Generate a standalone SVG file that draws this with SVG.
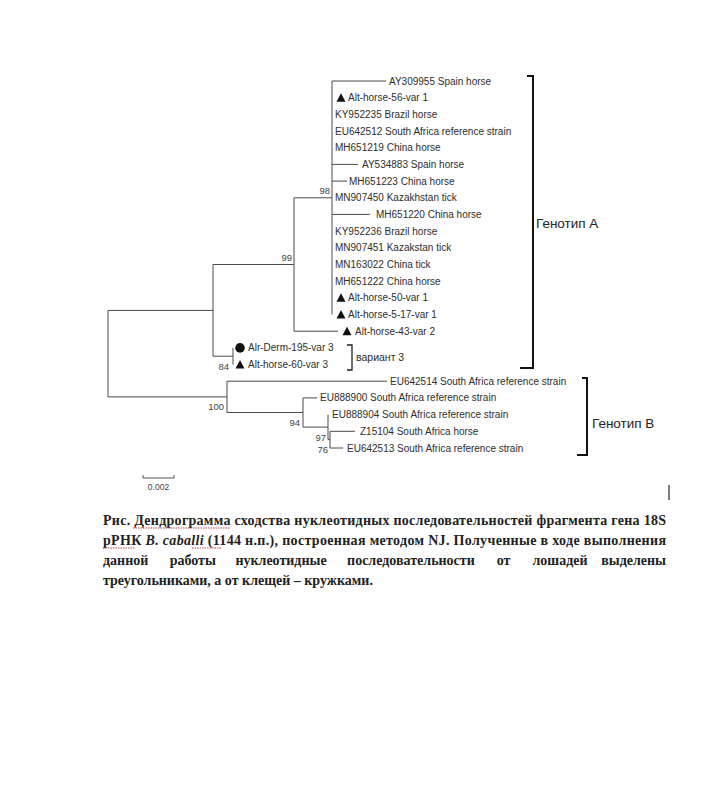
<svg xmlns="http://www.w3.org/2000/svg" xmlns:xlink="http://www.w3.org/1999/xlink" width="713" height="800" viewBox="0 0 713 800">
<defs>
<style>
.lf{font-family:"Liberation Sans",Arial,sans-serif;font-size:10px;fill:#2e2e2e}
.bs{font-family:"Liberation Sans",Arial,sans-serif;font-size:9.5px;fill:#444;text-anchor:end}
.gt{font-family:"Liberation Sans",Arial,sans-serif;font-size:13.5px;fill:#222}
.br{fill:none;stroke:#4a4a4a;stroke-width:1}
.bk{fill:none;stroke:#111;stroke-width:2}
.cap{font-family:"Liberation Serif","Times New Roman",serif;font-size:14px;font-weight:bold;fill:#222}
.sq{stroke:#b44;stroke-width:1.2;stroke-dasharray:1.5 1;fill:none}
</style>
<path id="tri" d="M-4.5,4 L4.5,4 L0,-4.5 Z" fill="#111"/>
</defs>
<rect width="713" height="800" fill="#fff"/>

<g id="connectors" class="br">
<path d="M108,310.4 V396.9 M108,310.4 H213 M108,396.9 H227"/>
<path d="M213,264.5 V356.2 M213,264.5 H294 M213,356.2 H233"/>
<path d="M233,347.9 V364.6"/>
<path d="M294,197.8 V331.2 M294,197.8 H332 M294,331.2 H338"/>
<path d="M332,81 V314.5 M332,81 H386 M332,164.4 H358 M332,181.1 H347 M332,214.4 H370"/>
<path d="M227,381.2 V412.5 M227,381.2 H387 M227,412.5 H303"/>
<path d="M303,397.9 V427.1 M303,397.9 H317 M303,427.1 H328"/>
<path d="M328,414.6 V439.6 M328,439.6 H330"/>
<path d="M330,431.3 V448 M330,431.3 H355 M330,448 H343"/>
</g>

<g id="bootstrap">
<text class="bs" x="330" y="194">98</text>
<text class="bs" x="292" y="261">99</text>
<text class="bs" x="229" y="370">84</text>
<text class="bs" x="224" y="410">100</text>
<text class="bs" x="300" y="426">94</text>
<text class="bs" x="326" y="441">97</text>
<text class="bs" x="328" y="453">76</text>
</g>

<g id="leaf-AY309955"><text class="lf" x="389" y="84.5">AY309955 Spain horse</text></g>
<g id="leaf-Alt-horse-56"><use xlink:href="#tri" x="341" y="97.7"/><text class="lf" x="348" y="101.2">Alt-horse-56-var 1</text></g>
<g id="leaf-KY952235"><text class="lf" x="335" y="117.9">KY952235 Brazil horse</text></g>
<g id="leaf-EU642512"><text class="lf" x="335" y="134.5">EU642512 South Africa reference strain</text></g>
<g id="leaf-MH651219"><text class="lf" x="335" y="151.2">MH651219 China horse</text></g>
<g id="leaf-AY534883"><text class="lf" x="362" y="167.9">AY534883 Spain horse</text></g>
<g id="leaf-MH651223"><text class="lf" x="349" y="184.6">MH651223 China horse</text></g>
<g id="leaf-MN907450"><text class="lf" x="335" y="201.3">MN907450 Kazakhstan tick</text></g>
<g id="leaf-MH651220"><text class="lf" x="376" y="217.9">MH651220 China horse</text></g>
<g id="leaf-KY952236"><text class="lf" x="335" y="234.6">KY952236 Brazil horse</text></g>
<g id="leaf-MN907451"><text class="lf" x="335" y="251.3">MN907451 Kazakstan tick</text></g>
<g id="leaf-MN163022"><text class="lf" x="335" y="268">MN163022 China tick</text></g>
<g id="leaf-MH651222"><text class="lf" x="335" y="284.7">MH651222 China horse</text></g>
<g id="leaf-Alt-horse-50"><use xlink:href="#tri" x="341" y="297.8"/><text class="lf" x="348" y="301.3">Alt-horse-50-var 1</text></g>
<g id="leaf-Alt-horse-5-17"><use xlink:href="#tri" x="341" y="314.5"/><text class="lf" x="348" y="318">Alt-horse-5-17-var 1</text></g>
<g id="leaf-Alt-horse-43"><use xlink:href="#tri" x="347" y="331.2"/><text class="lf" x="355" y="334.7">Alt-horse-43-var 2</text></g>
<g id="leaf-Alr-Derm-195"><circle cx="240" cy="347.9" r="4.8" fill="#111"/><text class="lf" x="248" y="351.4">Alr-Derm-195-var 3</text></g>
<g id="leaf-Alt-horse-60"><use xlink:href="#tri" x="240" y="364.6"/><text class="lf" x="248" y="368.1">Alt-horse-60-var 3</text></g>
<g id="leaf-EU642514"><text class="lf" x="390" y="384.7">EU642514 South Africa reference strain</text></g>
<g id="leaf-EU888900"><text class="lf" x="320" y="401.4">EU888900 South Africa reference strain</text></g>
<g id="leaf-EU888904"><text class="lf" x="332" y="418.1">EU888904 South Africa reference strain</text></g>
<g id="leaf-Z15104"><text class="lf" x="360" y="434.8">Z15104 South Africa horse</text></g>
<g id="leaf-EU642513"><text class="lf" x="347" y="451.5">EU642513 South Africa reference strain</text></g>

<g id="group-genotype-A">
<path class="bk" d="M527,76 H533 V368 H520"/>
<text class="gt" x="536" y="228">Генотип A</text>
</g>
<g id="group-genotype-B">
<path class="bk" d="M582,378 H587 V455 H577"/>
<text class="gt" x="592" y="428">Генотип B</text>
</g>
<g id="group-variant-3">
<path d="M347,345 H352 V370 H347" fill="none" stroke="#222" stroke-width="1.3"/>
<text class="lf" x="356" y="361" style="font-size:10.5px">вариант 3</text>
</g>

<g id="scale-bar">
<path d="M143,475 V478 H174 V475" fill="none" stroke="#555" stroke-width="1"/>
<text x="158.5" y="490" text-anchor="middle" style="font-family:'Liberation Sans',Arial,sans-serif;font-size:8.5px;fill:#444">0.002</text>
</g>

<path d="M669,485 V500" stroke="#555" stroke-width="1.5"/>

<g id="caption">
<text class="cap" x="103" y="525" textLength="563" lengthAdjust="spacing">Рис. Дендрограмма сходства нуклеотидных последовательностей фрагмента гена 18S</text>
<text class="cap" x="103" y="545" textLength="563" lengthAdjust="spacing">рРНК <tspan font-style="italic">B. caballi</tspan> (1144 н.п.), построенная методом NJ. Полученные в ходе выполнения</text>
<text class="cap" x="103" y="565">данной</text>
<text class="cap" x="169.7" y="565">работы</text>
<text class="cap" x="235.4" y="565">нуклеотидные</text>
<text class="cap" x="347.1" y="565">последовательности</text>
<text class="cap" x="496.8" y="565">от</text>
<text class="cap" x="532.5" y="565">лошадей</text>
<text class="cap" x="666" y="565" text-anchor="end">выделены</text>
<text class="cap" x="103" y="585">треугольниками, а от клещей – кружками.</text>
<path class="sq" d="M133,528 H230 M103,548 H135 M192,548 H221"/>
</g>
</svg>
